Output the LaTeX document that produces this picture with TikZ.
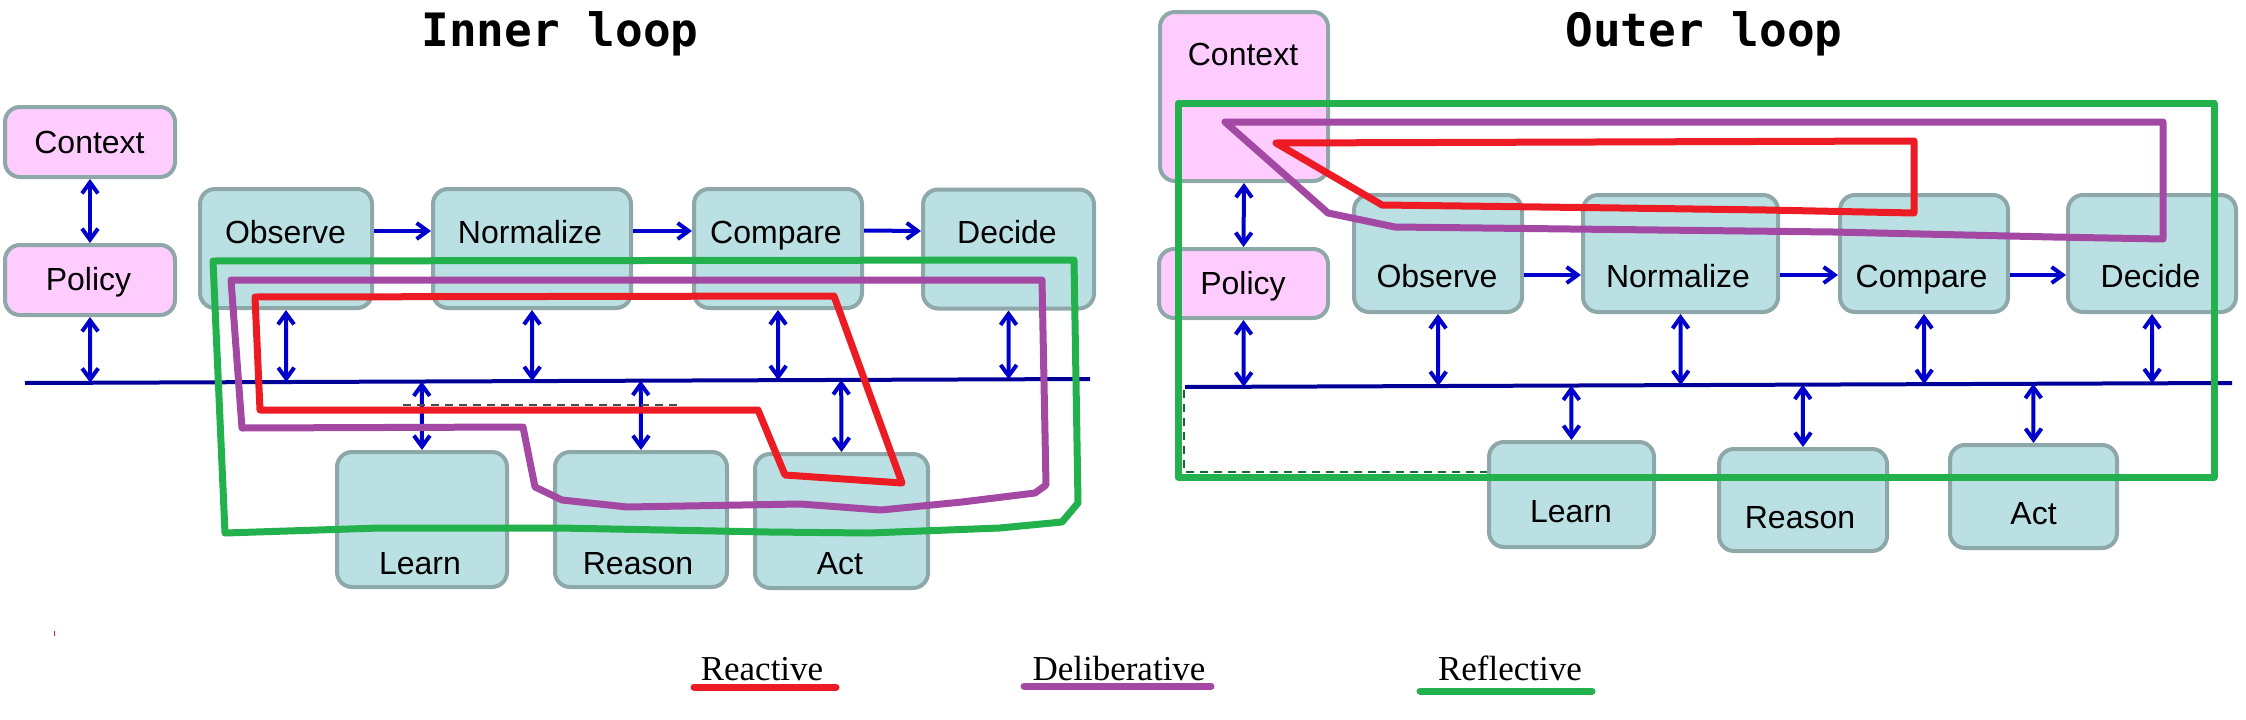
\documentclass[tikz,border=0pt]{standalone}
\usepackage{fontspec}
\setmainfont{Liberation Sans}
\newfontfamily\legfont{Liberation Serif}
\newfontfamily\ttlfont{DejaVu Sans Mono}
\usetikzlibrary{arrows.meta,calc}
\definecolor{boxfill}{RGB}{186,224,227}
\definecolor{boxline}{RGB}{142,167,169}
\definecolor{pinkfill}{RGB}{255,204,255}
\definecolor{arrc}{RGB}{0,0,204}
\definecolor{busc}{RGB}{0,0,153}
\definecolor{redl}{RGB}{237,28,36}
\definecolor{purl}{RGB}{163,73,164}
\definecolor{grnl}{RGB}{34,177,76}
\begin{document}
\begin{tikzpicture}[x=1pt,y=-1pt,
  box/.style={draw=boxline, line width=4pt, fill=boxfill, rounded corners=15pt, inner sep=0pt},
  pbox/.style={box, fill=pinkfill},
  lab/.style={anchor=base, inner sep=0pt, font=\fontsize{32}{36}\selectfont},
  ttl/.style={anchor=base, inner sep=0pt, font=\ttlfont\bfseries\fontsize{46}{50}\selectfont},
  leg/.style={anchor=base, inner sep=0pt, font=\legfont\fontsize{35}{40}\selectfont},
  dbl/.style={draw=arrc, line width=4pt, {Straight Barb[length=11pt,width=16pt]}-{Straight Barb[length=11pt,width=16pt]}},
  sgl/.style={draw=arrc, line width=4pt, -{Straight Barb[length=11pt,width=16pt]}},
  bus/.style={draw=busc, line width=4pt},
  loopline/.style={line width=7pt, line join=round},
  legline/.style={line width=7pt, line cap=round},
  trace/.style={line width=1.5pt, dashed, dash pattern=on 8pt off 6pt}
]
\useasboundingbox (0,0) rectangle (2246,720);

% ---------------- titles ----------------
\node[ttl] (tin) at (560,46) {Inner loop};
\node[ttl] (tout) at (1704,46) {Outer loop};

% ---------------- left panel boxes ----------------
\node[pbox, minimum width=170pt, minimum height=70pt] (lctx) at (90,142) {};
\node[pbox, minimum width=170pt, minimum height=70pt] (lpol) at (90,280) {};
\node[box, minimum width=172pt, minimum height=119pt] (lobs) at (286,248.5) {};
\node[box, minimum width=198pt, minimum height=119pt] (lnor) at (532,248.5) {};
\node[box, minimum width=168pt, minimum height=119pt] (lcmp) at (778,248.5) {};
\node[box, minimum width=171pt, minimum height=119pt] (ldec) at (1008.5,249) {};
\node[box, minimum width=170pt, minimum height=135pt] (llrn) at (422,519.5) {};
\node[box, minimum width=172pt, minimum height=135pt] (lrsn) at (641,519.5) {};
\node[box, minimum width=173pt, minimum height=134pt] (lact) at (841.5,521) {};

\node[lab] (lctxt) at (89.5,153) {Context};
\node[lab] (lpolt) at (88.5,290) {Policy};
\node[lab] (lobst) at (285.5,243) {Observe};
\node[lab] (lnort) at (530,243) {Normalize};
\node[lab] (lcmpt) at (776,243) {Compare};
\node[lab] (ldect) at (1007,243) {Decide};
\node[lab] (llrnt) at (420,574) {Learn};
\node[lab] (lrsnt) at (638,574) {Reason};
\node[lab] (lactt) at (840,574) {Act};

% ---------------- right panel boxes ----------------
\node[pbox, minimum width=168pt, minimum height=169pt] (rctx) at (1244,96.5) {};
\node[pbox, minimum width=169pt, minimum height=69pt] (rpol) at (1243.5,283.5) {};
\node[box, minimum width=168pt, minimum height=117pt] (robs) at (1438,253.5) {};
\node[box, minimum width=195pt, minimum height=117pt] (rnor) at (1680.5,253.5) {};
\node[box, minimum width=168pt, minimum height=117pt] (rcmp) at (1924,253.5) {};
\node[box, minimum width=168pt, minimum height=117pt] (rdec) at (2152,253.5) {};
\node[box, minimum width=165pt, minimum height=105pt] (rlrn) at (1571.5,494.5) {};
\node[box, minimum width=168pt, minimum height=102pt] (rrsn) at (1803,500) {};
\node[box, minimum width=167pt, minimum height=103pt] (ract) at (2033.5,496.5) {};

\node[lab] (rctxt) at (1243,65) {Context};
\node[lab] (rpolt) at (1243,294) {Policy};
\node[lab] (robst) at (1437,287) {Observe};
\node[lab] (rnort) at (1678,287) {Normalize};
\node[lab] (rcmpt) at (1921.5,287) {Compare};
\node[lab] (rdect) at (2150.5,287) {Decide};
\node[lab] (rlrnt) at (1571,522) {Learn};
\node[lab] (rrsnt) at (1800,528) {Reason};
\node[lab] (ractt) at (2033.5,524) {Act};

% ---------------- buses ----------------
\coordinate (lbA) at (25,383);
\coordinate (lbB) at (1090,379);
\coordinate (rbA) at (1185,387);
\coordinate (rbB) at (2232,383);
\draw[bus] (lbA) -- (lbB);
\draw[bus] (rbA) -- (rbB);

% ---------------- left arrows ----------------
\draw[dbl] (lctx.south) -- (lpol.north);
\draw[dbl] (lpol.south) -- ($(lbA)!(lpol.south)!(lbB)$);
\foreach \n in {lobs,lnor,lcmp,ldec}
  \draw[dbl] (\n.south) -- ($(lbA)!(\n.south)!(lbB)$);
\foreach \n in {llrn,lrsn,lact}
  \draw[dbl] ($(lbA)!(\n.north)!(lbB)$) -- (\n.north);
\draw[sgl] ([yshift=17.5pt]lobs.east) -- ([yshift=17.5pt]lnor.west);
\draw[sgl] ([yshift=17.5pt]lnor.east) -- ([yshift=17.5pt]lcmp.west);
\draw[sgl] ([yshift=18pt]lcmp.east) -- ([yshift=18pt]ldec.west);

% ---------------- right arrows ----------------
\draw[dbl] (rctx.south) -- (rpol.north);
\draw[dbl] (rpol.south) -- ($(rbA)!(rpol.south)!(rbB)$);
\foreach \n in {robs,rnor,rcmp,rdec}
  \draw[dbl] (\n.south) -- ($(rbA)!(\n.south)!(rbB)$);
\foreach \n in {rlrn,rrsn,ract}
  \draw[dbl] ($(rbA)!(\n.north)!(rbB)$) -- (\n.north);
\draw[sgl] ([yshift=-21.5pt]robs.east) -- ([yshift=-21.5pt]rnor.west);
\draw[sgl] ([yshift=-21.5pt]rnor.east) -- ([yshift=-21.5pt]rcmp.west);
\draw[sgl] ([yshift=-21.5pt]rcmp.east) -- ([yshift=-21.5pt]rdec.west);

% ---------------- faint traces ----------------
\draw[trace, draw=black!70] (403,405) -- (677,405);
\draw[trace, draw=grnl!60!black] (1184,390) -- (1184,472) -- (1487,472);
\draw[redl, line width=1pt] (54,631) -- (54,636);

% ---------------- left loops ----------------
\draw[loopline, grnl] (213,261) -- (1074,260) -- (1078,503) -- (1062,522) -- (1000,528)
  -- (869,533) -- (769,532) -- (558,528) -- (380,528) -- (225,533) -- cycle;
\draw[loopline, purl] (231,280) -- (1042,280) -- (1046,485) -- (1035,493) -- (962,502)
  -- (881,510) -- (800,504) -- (627,507) -- (562,500) -- (535,487) -- (523,427)
  -- (242,428) -- cycle;
\draw[loopline, redl] (255,297) -- (834,296) -- (902,483) -- (785,475) -- (758,410)
  -- (260,410) -- cycle;

% ---------------- right loops ----------------
\draw[loopline, grnl] (1178,103) rectangle (2214,477);
\draw[loopline, purl] (1225,122) -- (2163,122) -- (2163,239) -- (2053,237) -- (1833,232)
  -- (1395,227) -- (1328,213) -- cycle;
\draw[loopline, redl] (1276,143) -- (1914,141) -- (1914,213) -- (1766,210) -- (1620,208)
  -- (1382,205) -- cycle;

% ---------------- legend ----------------
\node[leg] (lgr) at (762,680) {Reactive};
\node[leg] (lgd) at (1119,680) {Deliberative};
\node[leg] (lgf) at (1510,680) {Reflective};
\draw[legline, redl] (694,687) -- (836,687);
\draw[legline, purl] (1024,686) -- (1211,686);
\draw[legline, grnl] (1420,691) -- (1592,691);
\end{tikzpicture}
\end{document}
